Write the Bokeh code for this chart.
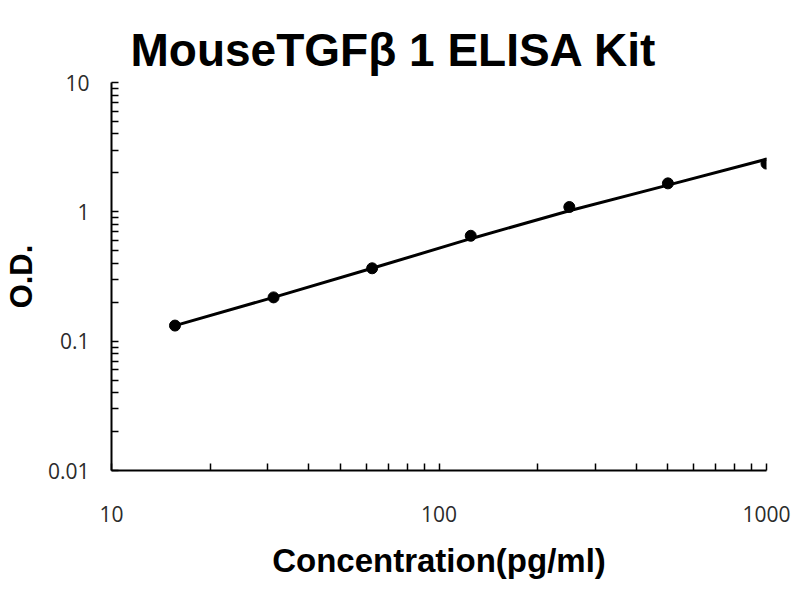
from bokeh.plotting import figure
from bokeh.models import Range1d, FixedTicker, CustomJSTickFormatter
from bokeh.embed import file_html
from bokeh.resources import INLINE

# standard concentrations (pg/ml) and measured O.D.
conc = [15.625, 31.25, 62.5, 125, 250, 500, 1000]
od = [0.132, 0.218, 0.366, 0.653, 1.09, 1.66, 2.36]
# fitted standard curve at the same concentrations
od_fit = [0.132, 0.218, 0.366, 0.62, 1.02, 1.61, 2.55]

x_ticks = [10, 100, 1000]
y_ticks = [0.01, 0.1, 1, 10]
x_minor = [m * 10 ** e for e in (1, 2) for m in range(2, 10)]
y_minor = [round(m * 10.0 ** e, 4) for e in (-2, -1, 0) for m in range(2, 10)]

p = figure(width=800, height=600, x_axis_type="log", y_axis_type="log",
           x_range=Range1d(10, 1000), y_range=Range1d(0.01, 10),
           title="MouseTGFβ 1 ELISA Kit",
           x_axis_label="Concentration(pg/ml)", y_axis_label="O.D.",
           toolbar_location=None, output_backend="svg",
           min_border_left=111, min_border_right=34,
           min_border_top=82, min_border_bottom=130)

p.title.text_font = "Liberation Sans"
p.title.text_font_size = "46px"
p.title.text_font_style = "bold"
p.title.text_color = "black"
p.title.align = "left"
p.title.offset = 19
p.title.standoff = 13

p.xgrid.visible = False
p.ygrid.visible = False
p.outline_line_color = None
p.background_fill_color = "white"
p.border_fill_color = "white"

p.xaxis.ticker = FixedTicker(ticks=x_ticks, minor_ticks=x_minor)
p.yaxis.ticker = FixedTicker(ticks=y_ticks, minor_ticks=y_minor)
fmt = CustomJSTickFormatter(code="return tick.toString();")
p.xaxis.formatter = fmt
p.yaxis.formatter = fmt

for ax in (p.xaxis, p.yaxis):
    ax.axis_line_width = 2
    ax.axis_line_color = "black"
    ax.major_tick_in = 7
    ax.major_tick_out = 0
    ax.minor_tick_in = 7
    ax.minor_tick_out = 0
    ax.major_tick_line_color = "black"
    ax.minor_tick_line_color = "black"
    ax.major_tick_line_width = 1.5
    ax.minor_tick_line_width = 1.5
    ax.major_label_text_font = "Open Sans"
    ax.major_label_text_font_size = "21px"
    ax.major_label_text_color = "#2b2b2b"
    ax.axis_label_text_font = "Liberation Sans"
    ax.axis_label_text_font_style = "bold"
    ax.axis_label_text_color = "black"

p.xaxis.major_label_standoff = 35
p.xaxis.axis_label_text_font_size = "33px"
p.xaxis.axis_label_standoff = 17
p.yaxis.major_label_standoff = 22
p.yaxis.axis_label_text_font_size = "31px"
p.yaxis.axis_label_standoff = 6

p.line(conc, od_fit, line_color="black", line_width=3)
p.scatter(conc, od, size=11, color="black")

open("out.html", "w").write(file_html(p, INLINE))
